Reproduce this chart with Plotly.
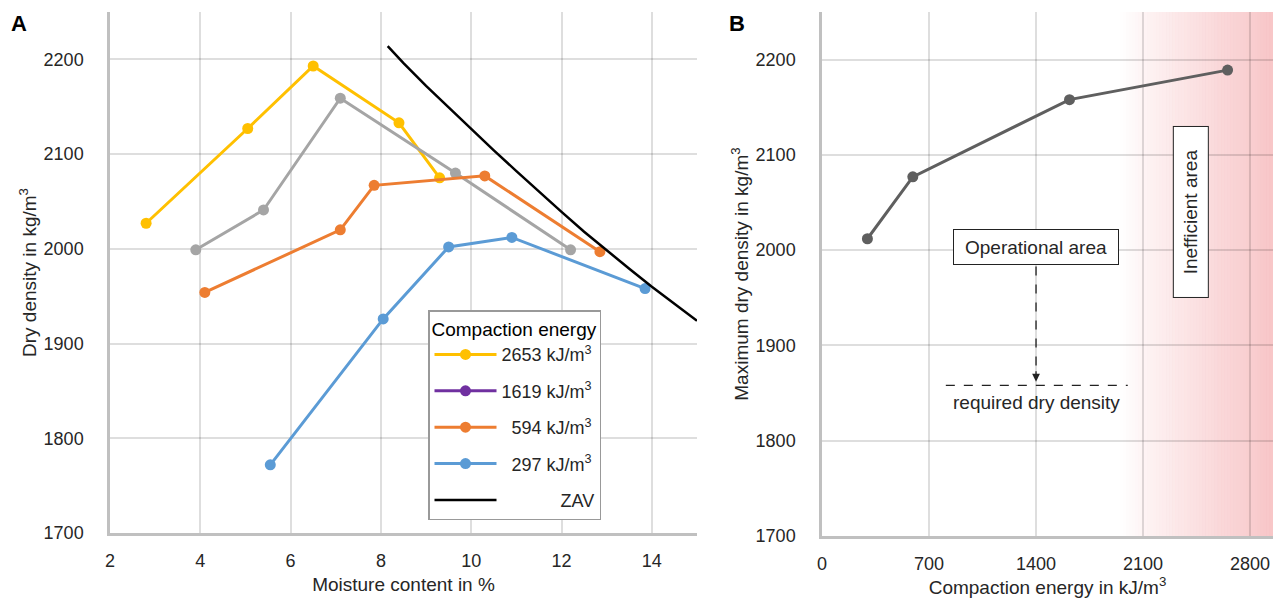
import plotly.graph_objects as go

# ---------------- data ----------------
# Panel A: compaction curves (moisture %, dry density kg/m3)
w_2653 = [2.8, 5.05, 6.5, 8.4, 9.3]
d_2653 = [2027, 2127, 2193, 2133, 2075]
w_1619 = [3.9, 5.4, 7.1, 9.65, 12.2]
d_1619 = [1999, 2041, 2159, 2080, 1999]
w_594 = [4.1, 7.1, 7.85, 10.3, 12.85]
d_594 = [1954, 2020, 2067, 2077, 1997]
w_297 = [5.55, 8.05, 9.5, 10.9, 13.85]
d_297 = [1772, 1926, 2002, 2012, 1958]
w_zav = [8.15, 8.5, 9, 9.5, 10, 10.5, 11, 11.5, 12, 12.5, 13, 13.5, 14, 14.5, 15]
d_zav = [2214, 2196, 2172, 2149, 2126, 2104, 2082, 2060, 2039, 2018, 1998, 1979, 1960, 1942, 1924]

# Panel B: maximum dry density vs compaction energy
energy = [297, 594, 1619, 2653]
max_density = [2012, 2077, 2158, 2189]

legend_names = ["2653 kJ/m<sup>3</sup>", "1619 kJ/m<sup>3</sup>",
                "\u2007594 kJ/m<sup>3</sup>", "\u2007297 kJ/m<sup>3</sup>"]
required_density = 1858

xa_ticks = [2, 4, 6, 8, 10, 12, 14]
xb_ticks = [0, 700, 1400, 2100, 2800]
y_ticks = [1700, 1800, 1900, 2000, 2100, 2200]

FONT = "Liberation Sans, Arial, sans-serif"
TXT = "#262626"
YELLOW, GREY, ORANGE, BLUE, PURPLE = "#FFC000", "#A5A5A5", "#ED7D31", "#5B9BD5", "#7030A0"

fig = go.Figure()

def curve(x, y, color, name, show=True, group=None):
    fig.add_trace(go.Scatter(
        x=x, y=y, mode="lines+markers", name=name, showlegend=show,
        legendgroup=group or name,
        line=dict(color=color, width=3), marker=dict(color=color, size=11),
        xaxis="x", yaxis="y"))

curve(w_2653, d_2653, YELLOW, legend_names[0], group="g1")
curve(w_1619, d_1619, GREY, "1619", show=False, group="g2x")
# legend entry for 1619 as in the original (purple)
fig.add_trace(go.Scatter(x=[None], y=[None], mode="lines+markers", name=legend_names[1],
                         legendgroup="g2", line=dict(color=PURPLE, width=3),
                         marker=dict(color=PURPLE, size=11), xaxis="x", yaxis="y"))
curve(w_594, d_594, ORANGE, legend_names[2], group="g3")
curve(w_297, d_297, BLUE, legend_names[3], group="g4")
fig.add_trace(go.Scatter(x=w_zav, y=d_zav, mode="lines", line=dict(color="black", width=2.5),
                         name="\u2007" * 5 + "\u2002ZAV", legendgroup="g5", xaxis="x", yaxis="y"))

fig.add_trace(go.Scatter(x=energy, y=max_density, mode="lines+markers", showlegend=False,
                         line=dict(color="#5f5f5f", width=3), marker=dict(color="#5f5f5f", size=11),
                         xaxis="x2", yaxis="y2"))

# gradient "inefficient" region
n = 50
g0, g1 = 1950, 2950
for i in range(n):
    a = 0.38 * ((i + 0.5) / n) ** 0.9
    fig.add_shape(type="rect", xref="x2", yref="y2",
                  x0=g0 + (g1 - g0) * i / n, x1=g0 + (g1 - g0) * (i + 1) / n + 0.5,
                  y0=1700, y1=2250, line_width=0, fillcolor=f"rgba(236,105,110,{a:.3f})",
                  layer="below")

# required dry density dashed line
fig.add_shape(type="line", xref="x2", yref="y2", x0=810, x1=2000,
              y0=required_density, y1=required_density,
              line=dict(color="#222", width=1.3, dash="dash"))
# dashed arrow from operational area box
fig.add_shape(type="line", xref="x2", yref="y2", x0=1400, x1=1400, y0=1983, y1=1872,
              line=dict(color="#222", width=1.3, dash="dash"))
fig.add_annotation(x=1400, y=required_density + 4, xref="x2", yref="y2", text="",
                   showarrow=True, arrowhead=2, arrowsize=1.2, arrowwidth=1.3, arrowcolor="#222",
                   ax=0, ay=-12)
fig.add_annotation(x=1400, y=2003, xref="x2", yref="y2", text="Operational area",
                   showarrow=False, font=dict(size=19, color=TXT, family=FONT),
                   width=156, height=26, borderpad=4,
                   bordercolor="#222", borderwidth=1, bgcolor="white")
fig.add_annotation(x=1400, y=1840, xref="x2", yref="y2", text="required dry density",
                   showarrow=False, font=dict(size=19, color=TXT, family=FONT))
fig.add_annotation(x=2413, y=2040, xref="x2", yref="y2", text="Inefficient area",
                   textangle=-90, showarrow=False, font=dict(size=19, color=TXT, family=FONT),
                   width=160, height=24, borderpad=5,
                   bordercolor="#222", borderwidth=1, bgcolor="white")

# panel labels
fig.add_annotation(x=19 / 1281, y=1 - 23 / 603, xref="paper", yref="paper", text="<b>A</b>",
                   xanchor="center", yanchor="middle",
                   showarrow=False, font=dict(size=22, color="black", family=FONT))
fig.add_annotation(x=737 / 1281, y=1 - 23 / 603, xref="paper", yref="paper", text="<b>B</b>",
                   xanchor="center", yanchor="middle",
                   showarrow=False, font=dict(size=22, color="black", family=FONT))

axis_common = dict(showgrid=True, gridcolor="rgba(0,0,0,0.13)", gridwidth=2, zeroline=False,
                   showline=True, linecolor="#c0c0c0", linewidth=2.5, ticks="",
                   automargin=False,
                   tickfont=dict(size=18, color=TXT, family=FONT))

fig.update_layout(
    width=1281, height=603, margin=dict(l=0, r=0, t=0, b=0, autoexpand=False),
    paper_bgcolor="white", plot_bgcolor="white",
    font=dict(family=FONT, color=TXT),
    xaxis=dict(domain=[110 / 1281, 697 / 1281], range=[2, 15], tickvals=xa_ticks,
               ticklabelstandoff=10,
               title=dict(text="Moisture content in %", font=dict(size=19, color=TXT), standoff=8),
               anchor="y", **axis_common),
    yaxis=dict(domain=[1 - 533 / 603, 1 - 12 / 603], range=[1700, 2250], tickvals=y_ticks,
               ticklabelstandoff=20,
               title=dict(text="Dry density in kg/m<sup>3</sup>", font=dict(size=19, color=TXT), standoff=2),
               anchor="x", **axis_common),
    xaxis2=dict(domain=[822 / 1281, 1273 / 1281], range=[0, 2950], tickvals=xb_ticks,
                ticklabelstandoff=10,
                title=dict(text="Compaction energy in kJ/m<sup>3</sup>", font=dict(size=19, color=TXT), standoff=8),
                anchor="y2", **axis_common),
    yaxis2=dict(domain=[1 - 536 / 603, 1 - 12 / 603], range=[1700, 2250], tickvals=y_ticks,
                ticklabelstandoff=20,
                title=dict(text="Maximum dry density in kg/m<sup>3</sup>", font=dict(size=19, color=TXT), standoff=2),
                anchor="x2", **axis_common),
    legend=dict(x=428 / 1281, y=1 - 310 / 603, xanchor="left", yanchor="top",
                bgcolor="white", bordercolor="#999", borderwidth=1.5,
                title=dict(text="Compaction energy", font=dict(size=19, color="black", family=FONT)),
                font=dict(size=18, color=TXT, family=FONT),
                traceorder="grouped", tracegroupgap=10, itemwidth=62),
)

fig.write_html("out.html")
